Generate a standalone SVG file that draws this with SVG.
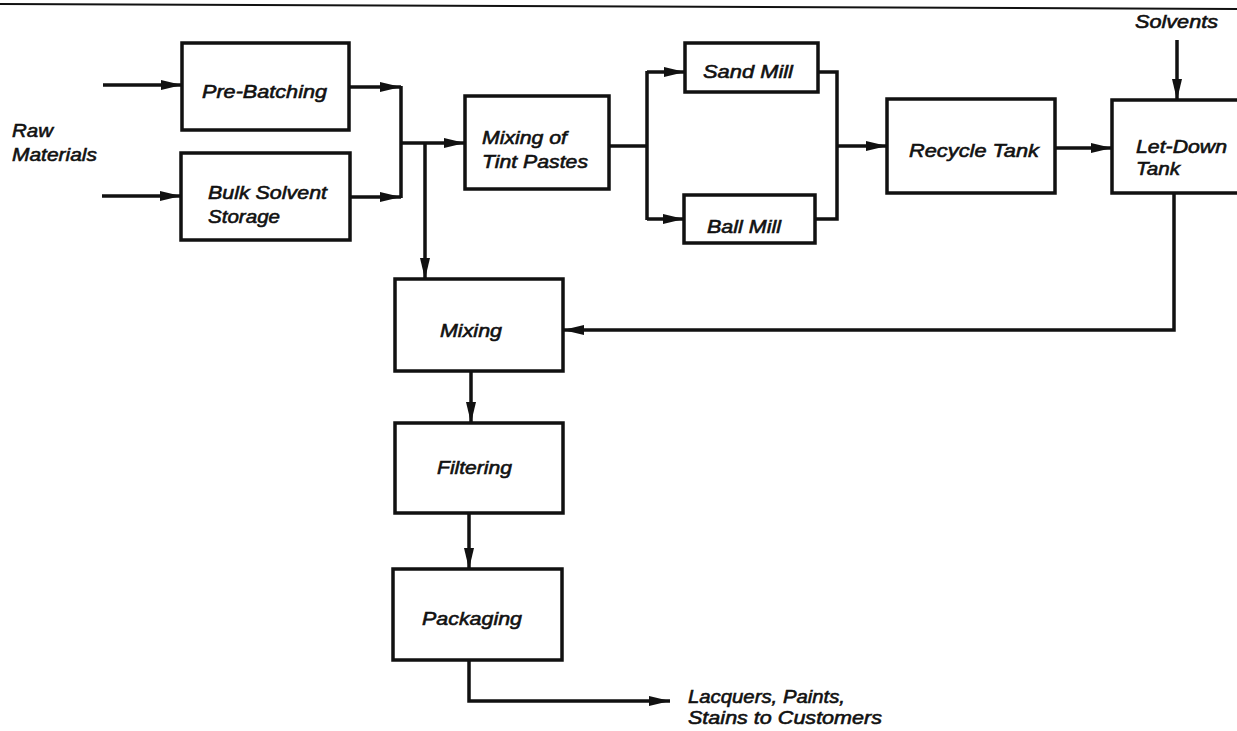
<svg xmlns="http://www.w3.org/2000/svg" width="1237" height="731" viewBox="0 0 1237 731">
<style>
.box{fill:#fff;stroke:#111;stroke-width:3.5}
.ln{fill:none;stroke:#111;stroke-width:3.5;stroke-linejoin:miter}
.ar{marker-end:url(#ah)}
text{font-family:"Liberation Sans",Arial,sans-serif;font-style:italic;font-size:19px;fill:#111;stroke:#111;stroke-width:0.6}
</style>
<defs>
<marker id="ah" markerUnits="userSpaceOnUse" markerWidth="22" markerHeight="11" refX="21" refY="5.5" orient="auto">
<path d="M0,0.5 L21,5.5 L0,10.5 z" fill="#111"/>
</marker>
</defs>
<rect width="1237" height="731" fill="#fff"/>
<line x1="0" y1="4" x2="1237" y2="9" stroke="#111" stroke-width="2"/>

<g id="connectors">
<path class="ln ar" d="M103,85 H182"/>
<path class="ln ar" d="M102,196 H181"/>
<path class="ln ar" d="M349,87 H401"/>
<path class="ln ar" d="M350,197 H401"/>
<path class="ln" d="M401,86 V198"/>
<path class="ln ar" d="M401,143 H465"/>
<path class="ln ar" d="M425,143 V279"/>
<path class="ln" d="M609,146 H647"/>
<path class="ln" d="M647,71 V220"/>
<path class="ln ar" d="M647,72 H685"/>
<path class="ln ar" d="M647,219 H684"/>
<path class="ln" d="M818,72 H837 V219 H815"/>
<path class="ln ar" d="M837,146 H887"/>
<path class="ln ar" d="M1055,148 H1112"/>
<path class="ln ar" d="M1177,40 V100"/>
<path class="ln ar" d="M1174,193 V330 H563"/>
<path class="ln ar" d="M471,371 V423"/>
<path class="ln ar" d="M469,513 V569"/>
<path class="ln ar" d="M469,660 V701 H670"/>
</g>

<g id="raw-materials">
<text x="12" y="137" textLength="41" lengthAdjust="spacingAndGlyphs">Raw</text>
<text x="12" y="161" textLength="85" lengthAdjust="spacingAndGlyphs">Materials</text>
</g>
<g id="pre-batching">
<rect class="box" x="182" y="43" width="167" height="87"/>
<text x="202" y="98" textLength="125" lengthAdjust="spacingAndGlyphs">Pre-Batching</text>
</g>
<g id="bulk-solvent-storage">
<rect class="box" x="181" y="153" width="169" height="87"/>
<text x="208" y="199" textLength="119" lengthAdjust="spacingAndGlyphs">Bulk Solvent</text>
<text x="208" y="223" textLength="72" lengthAdjust="spacingAndGlyphs">Storage</text>
</g>
<g id="mixing-tint-pastes">
<rect class="box" x="465" y="96" width="144" height="93"/>
<text x="482" y="144" textLength="85" lengthAdjust="spacingAndGlyphs">Mixing of</text>
<text x="482" y="168" textLength="106" lengthAdjust="spacingAndGlyphs">Tint Pastes</text>
</g>
<g id="sand-mill">
<rect class="box" x="685" y="43" width="133" height="49"/>
<text x="703" y="78" textLength="90" lengthAdjust="spacingAndGlyphs">Sand Mill</text>
</g>
<g id="ball-mill">
<rect class="box" x="684" y="195" width="131" height="48"/>
<text x="707" y="233" textLength="74" lengthAdjust="spacingAndGlyphs">Ball Mill</text>
</g>
<g id="recycle-tank">
<rect class="box" x="887" y="99" width="168" height="94"/>
<text x="909" y="157" textLength="130" lengthAdjust="spacingAndGlyphs">Recycle Tank</text>
</g>
<g id="let-down-tank">
<rect class="box" x="1112" y="100" width="130" height="93"/>
<text x="1136" y="153" textLength="91" lengthAdjust="spacingAndGlyphs">Let-Down</text>
<text x="1136" y="175" textLength="44" lengthAdjust="spacingAndGlyphs">Tank</text>
</g>
<g id="solvents">
<text x="1135" y="28" textLength="83" lengthAdjust="spacingAndGlyphs">Solvents</text>
</g>
<g id="mixing">
<rect class="box" x="395" y="279" width="168" height="92"/>
<text x="440" y="337" textLength="62" lengthAdjust="spacingAndGlyphs">Mixing</text>
</g>
<g id="filtering">
<rect class="box" x="395" y="423" width="168" height="90"/>
<text x="437" y="474" textLength="75" lengthAdjust="spacingAndGlyphs">Filtering</text>
</g>
<g id="packaging">
<rect class="box" x="393" y="569" width="169" height="91"/>
<text x="422" y="625" textLength="100" lengthAdjust="spacingAndGlyphs">Packaging</text>
</g>
<g id="output">
<text x="688" y="703" textLength="157" lengthAdjust="spacingAndGlyphs">Lacquers, Paints,</text>
<text x="688" y="724" textLength="194" lengthAdjust="spacingAndGlyphs">Stains to Customers</text>
</g>
</svg>
